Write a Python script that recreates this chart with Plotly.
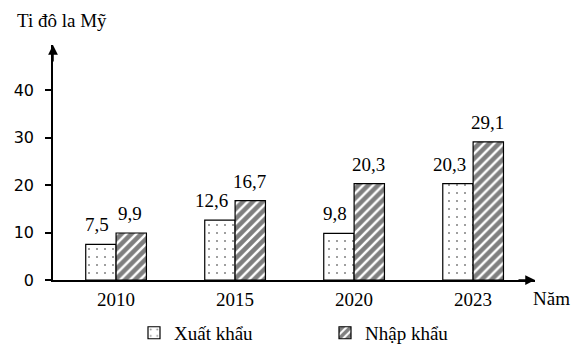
import plotly.graph_objects as go

years = ["2010", "2015", "2020", "2023"]
export_vals = [7.5, 12.6, 9.8, 20.3]
import_vals = [9.9, 16.7, 20.3, 29.1]
y_ticks = [0, 10, 20, 30, 40]

SERIF = "Liberation Serif, Times New Roman, serif"
SANS = "DejaVu Sans, Verdana, sans-serif"
FS = 19


def fmt(v):
    return f"{v:.1f}".replace(".", ",")


fig = go.Figure()
fig.add_trace(go.Bar(
    x=years, y=export_vals, name="Xuất khẩu",
    marker=dict(color="white", line=dict(color="black", width=1.2),
                pattern=dict(shape=".", fgcolor="black", bgcolor="white", size=8, solidity=0.05)),
))
fig.add_trace(go.Bar(
    x=years, y=import_vals, name="Nhập khẩu",
    marker=dict(color="white", line=dict(color="black", width=1.2),
                pattern=dict(shape="/", fgcolor="black", bgcolor="white", size=7, solidity=0.65)),
))

annotations = []
for i, (ve, vi) in enumerate(zip(export_vals, import_vals)):
    annotations.append(dict(x=i, y=ve, xref="x", yref="y", xshift=-5, yshift=7,
                            yanchor="bottom", xanchor="right", text=fmt(ve), showarrow=False,
                            font=dict(family=SERIF, size=FS, color="black")))
    annotations.append(dict(x=i, y=vi, xref="x", yref="y", xshift=14, yshift=7,
                            yanchor="bottom", xanchor="center", text=fmt(vi), showarrow=False,
                            font=dict(family=SERIF, size=FS, color="black")))

annotations += [
    dict(x=0, y=1, xref="paper", yref="paper", ax=0, ay=18, axref="pixel", ayref="pixel",
         text="", showarrow=True, arrowhead=2, arrowsize=1.3, arrowwidth=1.5, arrowcolor="black"),
    dict(x=1, y=0, xref="paper", yref="paper", ax=-18, ay=0, axref="pixel", ayref="pixel",
         text="", showarrow=True, arrowhead=2, arrowsize=1.3, arrowwidth=1.5, arrowcolor="black"),
    dict(x=1, y=0, xref="paper", yref="paper", xshift=-4, yshift=-18, xanchor="left", yanchor="middle",
         text="Năm", showarrow=False, font=dict(family=SERIF, size=FS)),
    dict(x=0, y=1, xref="paper", yref="paper", xshift=-38, yshift=25, xanchor="left", yanchor="middle",
         text="Ti đô la Mỹ", showarrow=False, font=dict(family=SERIF, size=FS)),
]

fig.update_layout(
    width=578, height=360,
    margin=dict(l=53, r=43, t=45, b=80, autoexpand=False),
    paper_bgcolor="white", plot_bgcolor="white",
    barmode="group", bargap=0.49, bargroupgap=0,
    font=dict(family=SERIF, size=FS, color="black"),
    showlegend=True,
    legend=dict(orientation="h", x=(134 - 53) / 482, xanchor="left", y=-0.225, yanchor="middle",
                font=dict(family=SERIF, size=FS), entrywidth=146, entrywidthmode="pixels", itemwidth=30),
    xaxis=dict(type="category", range=[-0.53, 3.52], showline=True, linecolor="black", linewidth=1.5,
               ticks="outside", ticklen=1, tickcolor="rgba(0,0,0,0)", showgrid=False,
               automargin=False, tickfont=dict(family=SERIF, size=FS)),
    yaxis=dict(range=[0, 49.5], showline=True, linecolor="black", linewidth=1.5,
               tickvals=y_ticks, ticks="outside", ticklen=6, tickcolor="black", tickwidth=1.5,
               ticklabelstandoff=8,
               showgrid=False, zeroline=False, automargin=False,
               tickfont=dict(family=SANS, size=16)),
    annotations=annotations,
)

fig.write_html("out.html", config={"displayModeBar": False},
               post_script="document.body.style.margin='0';")
